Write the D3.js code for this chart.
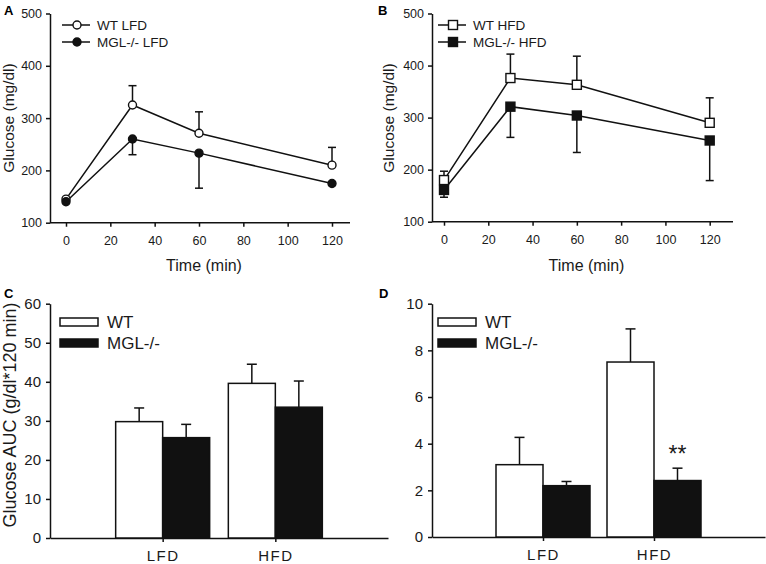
<!DOCTYPE html>
<html>
<head>
<meta charset="utf-8">
<script src="https://cdn.jsdelivr.net/npm/d3@7/dist/d3.min.js"></script>
<style>
  body { margin: 0; background: #fff; }
  svg { display: block; font-family: "Liberation Sans", Arial, sans-serif; }
  .axis path, .axis line { stroke: #111; stroke-width: 1.5; }
  .axis text { fill: #1a1a1a; }
</style>
</head>
<body>
<div id="scene"></div>
<script>
// ---- data ----
var times = [0, 30, 60, 120];
var timeTicks = [0, 20, 40, 60, 80, 100, 120];
var glucoseTicks = [100, 200, 300, 400, 500];

var wtLFD = [145, 325, 271, 210];
var wtLFDErr = [0, 37, 41, 34];
var mglLFD = [140, 260, 233, 175];
var mglLFDErr = [0, 30, 67, 0];

var wtHFD = [180, 376, 363, 290];
var wtHFDErr = [17, 46, 55, 48];
var mglHFD = [161, 321, 304, 256];
var mglHFDErr = [14, 59, 71, 77];

var diets = ["LFD", "HFD"];
var aucWT = [29.8, 39.6];
var aucWTErr = [3.5, 4.9];
var aucMGL = [25.7, 33.5];
var aucMGLErr = [3.4, 6.7];
var aucTicks = [0, 10, 20, 30, 40, 50, 60];

var dWT = [3.1, 7.5];
var dWTErr = [1.17, 1.42];
var dMGL = [2.2, 2.42];
var dMGLErr = [0.18, 0.53];
var dTicks = [0, 2, 4, 6, 8, 10];

var ctx = { w: 766, h: 564 };

var svg = d3.select("#scene").append("svg")
  .attr("width", ctx.w)
  .attr("height", ctx.h);

var ink = "#111";

var drawMarkers = function (g, pts, shape, fill) {
  if (shape === "circle") {
    g.selectAll(null).data(pts).enter().append("circle")
      .attr("cx", function (d) { return d[0]; })
      .attr("cy", function (d) { return d[1]; })
      .attr("r", 4)
      .attr("fill", fill)
      .attr("stroke", ink).attr("stroke-width", 1.4);
  } else {
    g.selectAll(null).data(pts).enter().append("rect")
      .attr("x", function (d) { return d[0] - 4.5; })
      .attr("y", function (d) { return d[1] - 4.5; })
      .attr("width", 9).attr("height", 9)
      .attr("fill", fill)
      .attr("stroke", ink).attr("stroke-width", 1.4);
  }
};

// ---- line panels (A, B) ----
var linePanel = function (p) {
  var g = svg.append("g");
  var x = d3.scaleLinear().domain([0, 120]).range([p.x0, p.x120]);
  var y = d3.scaleLinear().domain([100, 500]).range([p.yBottom, p.yTop]);

  // y axis
  g.append("g").attr("class", "axis")
    .attr("transform", "translate(" + p.left + ",0)")
    .call(d3.axisLeft(y).tickValues(glucoseTicks).tickSize(4).tickSizeOuter(0).tickPadding(4))
    .call(function (a) { a.selectAll("text").style("font-size", "12.5px"); });

  // x axis
  var xa = g.append("g").attr("class", "axis")
    .attr("transform", "translate(0," + p.yBottom + ")")
    .call(d3.axisBottom(x).tickValues(timeTicks).tickSize(4).tickSizeOuter(0).tickPadding(9));
  xa.select(".domain").remove();
  xa.selectAll("text").style("font-size", "12.5px");
  g.append("line")
    .attr("x1", p.left).attr("x2", p.right)
    .attr("y1", p.yBottom).attr("y2", p.yBottom)
    .attr("stroke", ink).attr("stroke-width", 1.5);

  // titles
  g.append("text")
    .attr("x", (p.left + p.right) / 2 + 4).attr("y", 271)
    .attr("text-anchor", "middle").style("font-size", "16px").attr("fill", "#1a1a1a")
    .text("Time (min)");
  g.append("text")
    .attr("transform", "translate(" + p.yLabelX + "," + 118 + ") rotate(-90)")
    .attr("text-anchor", "middle").style("font-size", "15.5px").attr("fill", "#1a1a1a")
    .text("Glucose (mg/dl)");
  g.append("text")
    .attr("x", p.letterX).attr("y", 15)
    .style("font-size", "13px").style("font-weight", "bold")
    .text(p.letter);

  var line = d3.line().x(function (d) { return x(d.t); }).y(function (d) { return y(d.v); });

  p.series.forEach(function (s) {
    var pts = times.map(function (t, i) { return { t: t, v: s.values[i], e: s.errs[i] }; });

    // error bars (WT up, MGL down)
    pts.forEach(function (d) {
      if (!d.e) return;
      var yEnd = y(d.v + s.dir * d.e);
      g.append("line")
        .attr("x1", x(d.t)).attr("x2", x(d.t))
        .attr("y1", y(d.v)).attr("y2", yEnd)
        .attr("stroke", ink).attr("stroke-width", 1.5);
      g.append("line")
        .attr("x1", x(d.t) - 4).attr("x2", x(d.t) + 4)
        .attr("y1", yEnd).attr("y2", yEnd)
        .attr("stroke", ink).attr("stroke-width", 1.5);
    });

    g.append("path")
      .datum(pts)
      .attr("d", line)
      .attr("fill", "none")
      .attr("stroke", ink)
      .attr("stroke-width", 1.5);
  });

  // markers on top
  p.series.forEach(function (s) {
    var pts = times.map(function (t, i) { return { t: t, v: s.values[i] }; });
    drawMarkers(g, pts.map(function (d) { return [x(d.t), y(d.v)]; }), p.shape, s.fill);
  });

  // legend
  p.series.forEach(function (s, i) {
    var ly = 25 + i * 17;
    g.append("line")
      .attr("x1", p.legX).attr("x2", p.legX + 28)
      .attr("y1", ly).attr("y2", ly)
      .attr("stroke", ink).attr("stroke-width", 1.5);
    drawMarkers(g, [[p.legX + 15, ly]], p.shape, s.fill);
    g.append("text")
      .attr("x", p.legX + 35).attr("y", ly + 5)
      .style("font-size", "13.5px").attr("fill", "#1a1a1a")
      .text(s.name);
  });
};

linePanel({
  letter: "A", letterX: 4,
  left: 50, right: 350, x0: 66, x120: 332, yTop: 13.5, yBottom: 222.7,
  yLabelX: 14, legX: 62, shape: "circle",
  series: [
    { name: "WT LFD", values: wtLFD, errs: wtLFDErr, fill: "#fff", dir: 1 },
    { name: "MGL-/- LFD", values: mglLFD, errs: mglLFDErr, fill: ink, dir: -1 }
  ]
});

linePanel({
  letter: "B", letterX: 378,
  left: 432, right: 733, x0: 444, x120: 709.7, yTop: 13.5, yBottom: 221.7,
  yLabelX: 394, legX: 438, shape: "square",
  series: [
    { name: "WT HFD", values: wtHFD, errs: wtHFDErr, fill: "#fff", dir: 1 },
    { name: "MGL-/- HFD", values: mglHFD, errs: mglHFDErr, fill: ink, dir: -1 }
  ]
});

// ---- bar panels (C, D) ----
var barPanel = function (p) {
  var g = svg.append("g");
  var x = d3.scalePoint().domain(diets).range([p.left, p.right]).padding(1);
  var y = d3.scaleLinear().domain([0, p.max]).range([p.yBottom, p.yTop]);
  var bw = 47;

  g.append("g").attr("class", "axis")
    .attr("transform", "translate(" + p.left + ",0)")
    .call(d3.axisLeft(y).tickValues(p.ticks).tickSize(4).tickSizeOuter(0).tickPadding(5))
    .call(function (a) { a.selectAll("text").style("font-size", "15px"); });

  var xa = g.append("g").attr("class", "axis")
    .attr("transform", "translate(0," + p.yBottom + ")")
    .call(d3.axisBottom(x).tickSize(4).tickSizeOuter(0).tickPadding(8));
  xa.selectAll("text").style("font-size", "15px").style("letter-spacing", "1.5px");

  var groups = [
    { vals: p.wt, errs: p.wtErr, fill: "#fff", off: -bw },
    { vals: p.mgl, errs: p.mglErr, fill: ink, off: 0 }
  ];

  groups.forEach(function (s) {
    diets.forEach(function (d, i) {
      var bx = x(d) + s.off;
      var top = y(s.vals[i]);
      var eTop = y(s.vals[i] + s.errs[i]);
      var cx = bx + bw / 2;
      g.append("line")
        .attr("x1", cx).attr("x2", cx).attr("y1", top).attr("y2", eTop)
        .attr("stroke", ink).attr("stroke-width", 1.5);
      g.append("line")
        .attr("x1", cx - 5).attr("x2", cx + 5).attr("y1", eTop).attr("y2", eTop)
        .attr("stroke", ink).attr("stroke-width", 1.5);
      g.append("rect")
        .attr("x", bx).attr("y", top)
        .attr("width", bw).attr("height", p.yBottom - top)
        .attr("fill", s.fill)
        .attr("stroke", ink).attr("stroke-width", 1.5);
    });
  });

  // legend
  [["WT", "#fff"], ["MGL-/-", ink]].forEach(function (l, i) {
    var ly = 322 + i * 21;
    g.append("rect")
      .attr("x", p.legX).attr("y", ly - 4)
      .attr("width", 38).attr("height", 8)
      .attr("fill", l[1]).attr("stroke", ink).attr("stroke-width", 1.5);
    g.append("text")
      .attr("x", p.legX + 47).attr("y", ly + 6)
      .style("font-size", "17px")
      .attr("fill", "#1a1a1a")
      .text(l[0]);
  });

  if (p.yLabel) {
    g.append("text")
      .attr("transform", "translate(16,415) rotate(-90)")
      .attr("text-anchor", "middle").style("font-size", "18px").attr("fill", "#1a1a1a")
      .text(p.yLabel);
  }
  g.append("text")
    .attr("x", p.letterX).attr("y", 298)
    .style("font-size", "13px").style("font-weight", "bold")
    .text(p.letter);

  if (p.star) {
    g.append("text")
      .attr("x", x(p.star) + bw / 2).attr("y", y(p.mgl[1] + p.mglErr[1]) - 6)
      .attr("text-anchor", "middle").style("font-size", "23px").attr("fill", "#1a1a1a")
      .text("**");
  }
};

barPanel({
  letter: "C", letterX: 4,
  left: 50, right: 388, yTop: 303.7, yBottom: 538, max: 60, ticks: aucTicks,
  wt: aucWT, wtErr: aucWTErr, mgl: aucMGL, mglErr: aucMGLErr,
  legX: 60, yLabel: "Glucose AUC (g/dl*120 min)"
});

barPanel({
  letter: "D", letterX: 379,
  left: 432, right: 765, yTop: 303.7, yBottom: 537, max: 10, ticks: dTicks,
  wt: dWT, wtErr: dWTErr, mgl: dMGL, mglErr: dMGLErr,
  legX: 438, star: "HFD"
});
</script>
</body>
</html>
